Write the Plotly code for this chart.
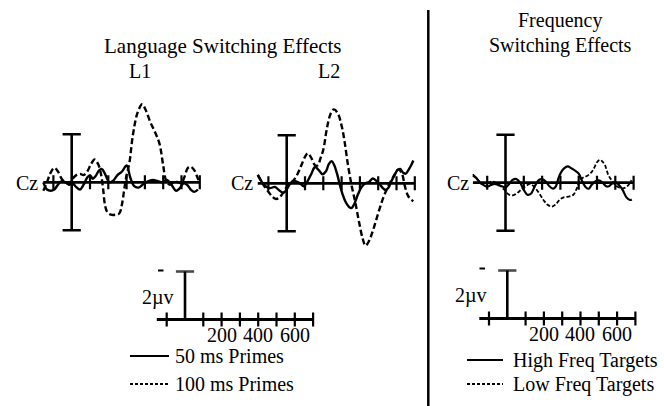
import plotly.graph_objects as go

W, H = 664, 406
PXMS = 0.183   # px per ms
PXUV = 24.0    # px per microvolt
FONT = "Liberation Serif"

# ---------------- data (ms, microvolts; negative plotted up) ----------------
l1_50_t = [-155,-135,-115,-95,-75,-55,-35,-15,5,25,45,65,85,100,115,130,150,165,185,205,225,250,275,300,320,340,365,395,420,445,470,495,520,545,570,590,610,630,650,670,690]
l1_50_v = [0.0,0.3,0.35,0.3,0.1,-0.05,0.0,0.1,0.05,0.2,0.3,0.1,-0.2,-0.3,-0.15,-0.25,-0.5,-0.55,-0.3,0.0,-0.05,-0.3,-0.45,-0.7,-0.2,0.15,0.22,0.05,-0.05,-0.1,-0.05,0.0,-0.1,0.1,0.35,0.25,0.05,0.1,0.3,0.4,0.3]

l1_100_t = [-155,-135,-115,-95,-75,-55,-35,-15,5,25,45,65,85,105,125,145,160,172,182,195,215,240,260,275,287,300,315,335,360,385,405,430,455,480,500,515,535,560,585,600,615,635,650,670,690,700]
l1_100_v = [0.35,0.0,-0.4,-0.6,-0.45,-0.15,0.0,0.05,-0.15,-0.3,-0.35,-0.3,-0.45,-0.75,-0.95,-0.75,-0.35,0.3,0.95,1.25,1.35,1.35,1.3,0.9,0.3,-0.3,-0.8,-2.0,-2.9,-3.25,-3.0,-2.5,-2.1,-1.6,-0.7,-0.1,0.1,0.0,0.0,0.05,-0.2,-0.6,-0.65,-0.5,-0.15,0.0]

l2_50_t = [-158,-135,-110,-90,-65,-40,-18,0,20,40,60,80,95,115,135,155,175,195,215,230,246,260,275,290,305,320,340,355,370,390,410,430,450,470,490,510,525,540,555,570,590,605,620,635,650,665,680,692]
l2_50_v = [-0.35,-0.05,0.15,0.2,0.15,0.3,0.4,0.25,0.0,-0.1,-0.05,0.05,0.12,-0.1,-0.4,-0.68,-0.55,-0.38,-0.5,-0.8,-0.92,-0.75,-0.4,0.05,0.45,0.75,0.98,1.03,0.85,0.45,0.15,0.0,-0.05,-0.2,-0.1,0.05,0.2,0.28,0.2,-0.05,-0.35,-0.55,-0.6,-0.45,-0.4,-0.55,-0.75,-0.95]

l2_100_t = [-158,-140,-120,-100,-80,-60,-40,-20,0,20,40,60,80,100,115,135,155,170,185,200,220,240,258,280,300,315,335,355,375,395,415,431,450,470,490,510,530,550,570,590,610,630,645,665,692]
l2_100_v = [-0.35,-0.1,0.15,0.35,0.55,0.65,0.6,0.4,0.15,0.0,-0.15,-0.4,-0.75,-1.1,-1.25,-1.05,-0.75,-0.75,-1.05,-1.4,-2.3,-2.9,-3.08,-2.9,-2.4,-1.8,-0.75,0.1,0.8,1.6,2.3,2.6,2.4,2.0,1.5,1.0,0.55,0.2,-0.1,-0.37,-0.58,-0.4,0.1,0.55,0.75]

hf_t = [-178,-160,-140,-120,-100,-80,-60,-40,-20,0,20,40,60,80,100,120,140,160,180,200,220,240,260,275,290,305,320,340,360,380,400,420,440,455,470,490,510,530,550,565,580,600,620,640,660,680,690]
hf_v = [-0.3,-0.2,0.0,0.1,0.17,0.1,0.05,0.1,0.15,0.2,0.05,-0.12,-0.15,0.0,0.3,0.5,0.45,0.15,-0.1,-0.15,-0.05,0.15,0.25,0.15,-0.2,-0.45,-0.6,-0.68,-0.6,-0.5,-0.38,-0.05,0.2,0.25,0.1,-0.05,-0.1,0.0,0.15,0.15,0.05,-0.02,0.1,0.3,0.6,0.72,0.7]

lf_t = [-178,-155,-130,-102,-75,-50,-25,0,20,44,70,90,107,135,160,189,210,230,253,275,295,315,344,371,389,407,425,445,465,480,500,516,530,544,562,580,600,620,640,662,689]
lf_v = [-0.35,-0.15,0.0,0.03,-0.05,0.0,0.15,0.35,0.5,0.52,0.4,0.25,0.17,0.05,0.2,0.5,0.75,0.92,1.0,0.9,0.72,0.62,0.58,0.5,0.25,-0.1,-0.22,-0.28,-0.4,-0.55,-0.85,-0.95,-0.88,-0.72,-0.32,-0.1,0.1,0.2,0.24,0.17,-0.1]

tick_ms = [-100, 100, 200, 300, 400, 500, 600, 700]
scale_labels = [200, 400, 600]
cal_uv = 2.0

XR = [-185, 720]
YR_CZ = [-4.5, 3.5]
YR_SC = [-2.6, 0.6]

# panels: (x-pixel of 0 ms, y-pixel of 0 uV, y range, axis start ms)
panels = [
    (71.7, 182.3, YR_CZ, -155),   # L1
    (286.7, 183.3, YR_CZ, -158),  # L2
    (505.5, 182.7, YR_CZ, -178),  # Frequency
    (185.0, 319.5, YR_SC, -154),  # scale left
    (507.3, 318.5, YR_SC, -153),  # scale right
]

fig = go.Figure()
layout = {}
for i, (x0, y0, yr, xs) in enumerate(panels, start=1):
    xl = (x0 + XR[0] * PXMS) / W
    xr = (x0 + XR[1] * PXMS) / W
    yt = 1 - (y0 + yr[0] * PXUV) / H
    yb = 1 - (y0 + yr[1] * PXUV) / H
    sfx = "" if i == 1 else str(i)
    layout["xaxis" + sfx] = dict(domain=[xl, xr], range=XR, visible=False,
                                 anchor="y" + sfx, fixedrange=True)
    layout["yaxis" + sfx] = dict(domain=[yb, yt], range=[yr[1], yr[0]], visible=False,
                                 anchor="x" + sfx, fixedrange=True)
fig.update_layout(**layout)


def ax(i):
    return ("x" if i == 1 else "x%d" % i), ("y" if i == 1 else "y%d" % i)


BLACK = "black"
for i, (x0, y0, yr, xs) in enumerate(panels, start=1):
    xa, ya = ax(i)
    # baseline axis
    fig.add_trace(go.Scatter(x=[xs, 700], y=[0, 0], mode="lines", xaxis=xa, yaxis=ya,
                             line=dict(color=BLACK, width=2.8), hoverinfo="skip"))
    # tick marks
    fig.add_trace(go.Scatter(x=tick_ms, y=[0] * len(tick_ms), mode="markers", xaxis=xa, yaxis=ya,
                             marker=dict(symbol="line-ns", size=10, line=dict(color=BLACK, width=2.2)),
                             hoverinfo="skip"))
    if i <= 3:
        fig.add_trace(go.Scatter(x=[0, 0], y=[-cal_uv, cal_uv], mode="lines+markers", xaxis=xa, yaxis=ya,
                                 line=dict(color=BLACK, width=2.6),
                                 marker=dict(symbol="line-ew", size=13, line=dict(color=BLACK, width=2.6)),
                                 hoverinfo="skip"))
    else:
        fig.add_trace(go.Scatter(x=[0, 0], y=[0, -cal_uv], mode="lines+markers", xaxis=xa, yaxis=ya,
                                 line=dict(color=BLACK, width=2.6),
                                 marker=dict(symbol="line-ew", size=[0, 13], line=dict(color=BLACK, width=2.6)),
                                 hoverinfo="skip"))

wave = [
    (1, l1_50_t, l1_50_v, "solid", 2.4),
    (1, l1_100_t, l1_100_v, "6px,3px", 2.4),
    (2, l2_50_t, l2_50_v, "solid", 2.4),
    (2, l2_100_t, l2_100_v, "6px,3px", 2.4),
    (3, hf_t, hf_v, "solid", 2.2),
    (3, lf_t, lf_v, "4px,2px", 1.8),
]
for i, t, v, dash, w in wave:
    xa, ya = ax(i)
    fig.add_trace(go.Scatter(x=t, y=v, mode="lines", xaxis=xa, yaxis=ya,
                             line=dict(color=BLACK, width=w, dash=dash, shape="spline", smoothing=1.0),
                             hoverinfo="skip"))

ann = []


def px_ann(text, x, y, size=20, xanchor="center"):
    ann.append(dict(text=text, x=x / W, y=1 - y / H, xref="paper", yref="paper",
                    xanchor=xanchor, yanchor="middle", showarrow=False,
                    font=dict(family=FONT, size=size, color=BLACK)))


px_ann("Language Switching Effects", 222.5, 46, 21)
px_ann("L1", 140, 71, 20)
px_ann("L2", 329, 71, 20)
px_ann("Frequency", 560, 20, 20)
px_ann("Switching Effects", 560, 45, 20)
px_ann("Cz", 40, 183, 20, "right")
px_ann("Cz", 255, 183, 20, "right")
px_ann("Cz", 471, 183, 20, "right")
px_ann("2\u00b5v", 157.5, 297, 20)
px_ann("2\u00b5v", 471.5, 295, 20)
px_ann("50 ms Primes", 173, 356, 20, "left")
px_ann("100 ms Primes", 173, 384, 20, "left")
px_ann("High Freq Targets", 511, 360, 20, "left")
px_ann("Low Freq Targets", 511, 384, 20, "left")

for i in (4, 5):
    xa, ya = ax(i)
    for lab in scale_labels:
        ann.append(dict(text=str(lab), x=lab, y=0, xref=xa, yref=ya, xanchor="center",
                        yanchor="top", yshift=-2, showarrow=False,
                        font=dict(family=FONT, size=20, color=BLACK)))

shapes = []


def px_line(x1, y1, x2, y2, w=2, dash="solid"):
    shapes.append(dict(type="line", xref="paper", yref="paper", x0=x1 / W, x1=x2 / W,
                       y0=1 - y1 / H, y1=1 - y2 / H, line=dict(color=BLACK, width=w, dash=dash)))


px_line(428.3, 10, 428.3, 406, 2.5)
px_line(158, 270.5, 163.5, 270.5, 2)
px_line(479.5, 268.5, 485, 268.5, 2)
px_line(130, 356, 169, 356, 1.8)
px_line(130, 384, 169, 384, 1.8, "3px,2px")
px_line(467, 360, 503, 360, 1.8)
px_line(467, 384, 503, 384, 1.8, "3px,2px")

fig.update_layout(width=W, height=H, margin=dict(l=0, r=0, t=0, b=0),
                  paper_bgcolor="white", plot_bgcolor="rgba(0,0,0,0)",
                  showlegend=False, annotations=ann, shapes=shapes,
                  font=dict(family=FONT, color=BLACK))
fig.write_html("out.html", config={"displayModeBar": False})
